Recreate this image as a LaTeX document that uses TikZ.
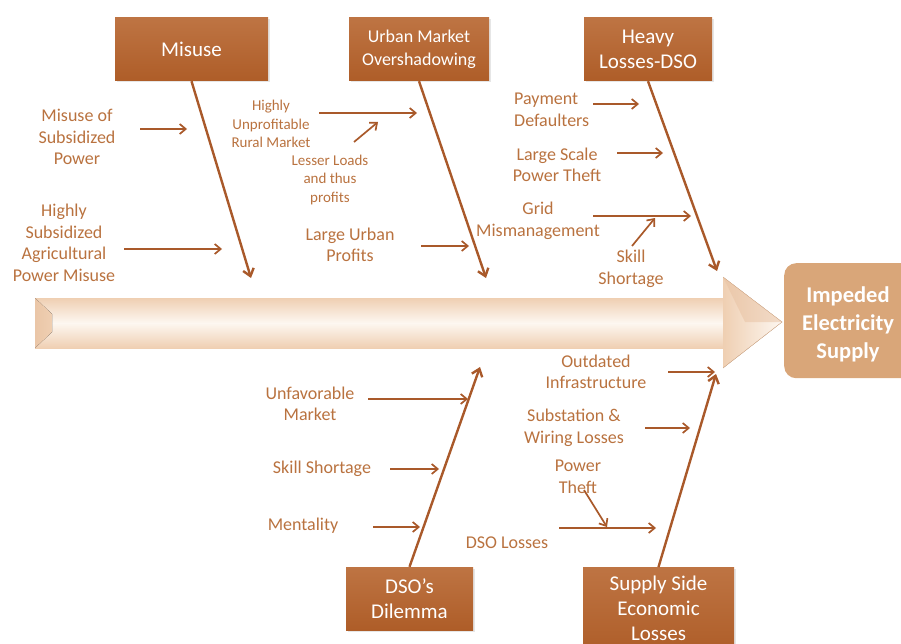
\documentclass[tikz,border=0pt]{standalone}
\usepackage{fontspec}
\setmainfont{Carlito}
\usetikzlibrary{arrows.meta,shadows}
\definecolor{boxtop}{HTML}{BE7443}
\definecolor{boxbot}{HTML}{AE5D28}
\definecolor{labcol}{HTML}{B9723F}
\definecolor{arrcol}{HTML}{A9592A}
\definecolor{spine}{HTML}{EFCFB2}
\definecolor{spinelight}{HTML}{FDF7F1}
\definecolor{effect}{HTML}{D9A679}
\begin{document}
\begin{tikzpicture}[x=1pt,y=-1pt,
  catbox/.style={top color=boxtop, bottom color=boxbot, draw=none, text=white,
    font=\fontsize{21}{25}\selectfont, align=center, inner sep=0pt,
    drop shadow={opacity=0.2, shadow xshift=1.5pt, shadow yshift=-1.5pt}},
  lab/.style={text=labcol, font=\fontsize{18}{21.5}\selectfont, align=center, inner sep=0pt},
  smalllab/.style={text=labcol, font=\fontsize{15}{18.5}\selectfont, align=center, inner sep=0pt},
  bone/.style={draw=arrcol, line width=2.4pt, -{Straight Barb[length=7pt,width=11pt,line width=2.4pt]}},
  sub/.style={draw=arrcol, line width=1.7pt, -{Straight Barb[length=6pt,width=10pt,line width=1.7pt]}}
]
\useasboundingbox (0,0) rectangle (901,644);

% spine
\fill[top color=spine, bottom color=spine, middle color=spinelight] (35,298) rectangle (724,348);
\fill[left color=spine!90!boxtop, right color=spine] (35,298) -- (52,314) -- (52,332) -- (35,348) -- cycle;
\fill[left color=spine, right color=spinelight] (723,277) -- (782,322) -- (723,368) -- cycle;
\fill[spine!85!boxtop, opacity=0.5] (723,277) -- (782,322) -- (745,322) -- cycle;
\draw[spine!70!boxtop, line width=0.4pt] (723,277) -- (782,322) -- (723,368);

% effect
\node[fill=effect, rounded corners=12pt, minimum width=130pt, minimum height=115pt,
  anchor=north west, inner sep=0pt] (effectbox) at (784,263) {};
\node[text=white, font=\bfseries\fontsize{22.5}{28}\selectfont, align=center, inner sep=0pt]
  (effecttext) at (848,324) {Impeded\\Electricity\\Supply};

% category boxes
\node[catbox, minimum width=153pt, minimum height=63pt] (misuse) at (191.5,49.5) {Misuse};
\node[catbox, minimum width=140pt, minimum height=63pt, font=\fontsize{18}{23}\selectfont] (urban) at (419,49.5) {Urban Market\\Overshadowing};
\node[catbox, minimum width=128pt, minimum height=63pt] (heavy) at (648,49.5) {Heavy\\Losses-DSO};
\node[catbox, minimum width=127pt, minimum height=63pt] (dso) at (409.5,598.5) {DSO’s\\Dilemma};
\node[catbox, minimum width=151pt, minimum height=88pt, anchor=north] (supply) at (658.5,567) {};
\node[text=white, font=\fontsize{21}{25}\selectfont, align=center, inner sep=0pt] (supplytext) at (658.5,608) {Supply Side\\Economic\\Losses};

% bone ends
\coordinate (misuseEnd) at (251,278);
\coordinate (urbanEnd) at (486,278);
\coordinate (heavyEnd) at (717,271);
\coordinate (dsoEnd) at (480,367);
\coordinate (supplyEnd) at (716,374);

\draw[bone] (misuse.south) -- (misuseEnd);
\draw[bone] (urban.south) -- (urbanEnd);
\draw[bone] (heavy.south) -- (heavyEnd);
\draw[bone] (dso.north) -- (dsoEnd);
\draw[bone] (supply.north) -- (supplyEnd);

% labels
\node[lab] (l1) at (77,137) {Misuse of\\Subsidized\\Power};
\node[lab] (l2) at (64,243) {Highly\\Subsidized\\Agricultural\\Power Misuse};
\node[smalllab] (l3) at (271,124) {Highly\\Unprofitable\\Rural Market};
\node[smalllab] (l4) at (330,180) {Lesser Loads\\and thus\\profits};
\node[lab] (l5) at (350,245) {Large Urban\\Profits};
\node[lab, align=left, anchor=west] (l6) at (514,110) {Payment\\Defaulters};
\node[lab] (l7) at (557,165) {Large Scale\\Power Theft};
\node[lab] (l8) at (538,221) {Grid\\Mismanagement};
\node[lab] (l9) at (631,269) {Skill\\Shortage};
\node[lab] (l10) at (596,372) {Outdated\\Infrastructure};
\node[lab] (l11) at (574,428) {Substation \&\\Wiring Losses};
\node[lab] (l12) at (578,477) {Power\\Theft};
\node[lab] (l13) at (507,543) {DSO Losses};
\node[lab] (l14) at (310,404) {Unfavorable\\Market};
\node[lab] (l15) at (322,469) {Skill Shortage};
\node[lab] (l16) at (303,526) {Mentality};

% sub arrows coordinates
\coordinate (a1s) at (140,129); \coordinate (a1e) at (187,129);
\coordinate (a2s) at (124,249); \coordinate (a2e) at (222,249);
\coordinate (a3s) at (319,113); \coordinate (a3e) at (417,113);
\coordinate (a4s) at (354,142); \coordinate (a4e) at (378,122);
\coordinate (a5s) at (421,246); \coordinate (a5e) at (469,246);
\coordinate (a6s) at (593,104); \coordinate (a6e) at (639,104);
\coordinate (a7s) at (617,153); \coordinate (a7e) at (663,153);
\coordinate (a8s) at (593,216); \coordinate (a8e) at (691,216);
\coordinate (a9s) at (632,246); \coordinate (a9e) at (655,218);
\coordinate (a10s) at (668,372); \coordinate (a10e) at (715,372);
\coordinate (a11s) at (645,428); \coordinate (a11e) at (690,428);
\coordinate (a12s) at (584,490); \coordinate (a12e) at (607,527);
\coordinate (a13s) at (559,528); \coordinate (a13e) at (656,528);
\coordinate (a14s) at (368,399); \coordinate (a14e) at (468,399);
\coordinate (a15s) at (390,469); \coordinate (a15e) at (439,469);
\coordinate (a16s) at (373,527); \coordinate (a16e) at (420,527);

\foreach \i in {1,...,16} {\draw[sub] (a\i s) -- (a\i e);}
\end{tikzpicture}
\end{document}
